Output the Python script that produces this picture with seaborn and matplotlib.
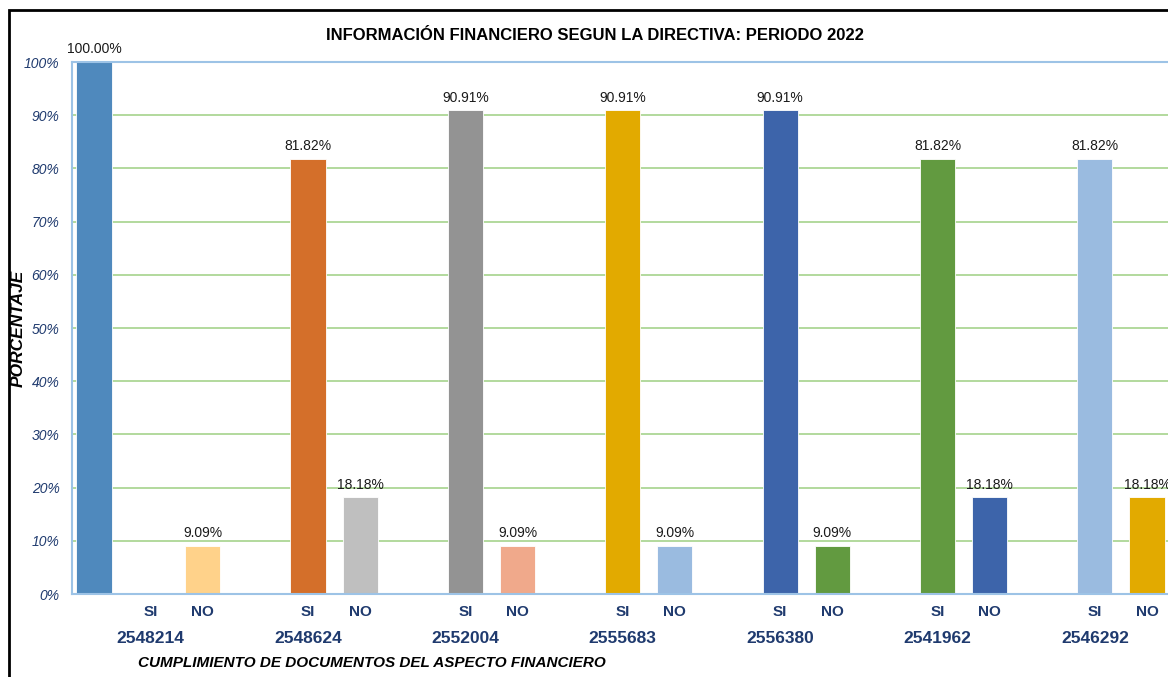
import pandas as pd
import seaborn as sns
import matplotlib.pyplot as plt
from matplotlib.patches import Rectangle
from matplotlib.transforms import blended_transform_factory

# data
grupos = ["2548214", "2548624", "2552004", "2555683", "2556380", "2541962", "2546292"]
respuestas = ["SI", "NO"]
si_valores = [1.0, 0.8182, 0.9091, 0.9091, 0.9091, 0.8182, 0.8182]
no_valores = [0.0909, 0.1818, 0.0909, 0.0909, 0.0909, 0.1818, 0.1818]

# bar colours, one per group (SI, NO)
si_colores = ["#4F89BD", "#D46F2A", "#939393", "#E2AA00", "#3D64AA", "#629A40", "#9ABBE0"]
no_colores = ["#FFD28A", "#BFBFBF", "#F0A98B", "#9ABBE0", "#629A40", "#3D64AA", "#E2AA00"]

navy = "#1F3A6E"
azul_eje = "#9DC3E6"
verde_grid = "#A6D38C"

records = []
for g, s, n in zip(grupos, si_valores, no_valores):
    records.append({"Grupo": g, "Respuesta": "SI", "Valor": s})
    records.append({"Grupo": g, "Respuesta": "NO", "Valor": n})
df = pd.DataFrame(records)

sns.set_style("white")
plt.rcParams["font.family"] = ["Liberation Sans", "DejaVu Sans"]
plt.rcParams["text.color"] = "black"

fig = plt.figure(figsize=(11.68, 6.77), dpi=100)
ax = fig.add_axes([72 / 1168, 83 / 677, 1108 / 1168, 532 / 677])

sns.barplot(data=df, x="Grupo", y="Valor", hue="Respuesta", order=grupos,
            hue_order=respuestas, width=0.662, gap=0.326, legend=False, ax=ax)

si_bars, no_bars = ax.containers[0], ax.containers[1]
for bar, c in zip(si_bars, si_colores):
    bar.set_facecolor(c)
    bar.set_edgecolor("white")
    bar.set_linewidth(0.6)
for bar, c in zip(no_bars, no_colores):
    bar.set_facecolor(c)
    bar.set_edgecolor("white")
    bar.set_linewidth(0.6)

si_pos = [b.get_x() + b.get_width() / 2 for b in si_bars]
no_pos = [b.get_x() + b.get_width() / 2 for b in no_bars]

# first SI bar sits further left in the original chart
si_bars[0].set_x(si_bars[0].get_x() - 0.36)

for cont in ax.containers:
    ax.bar_label(cont, labels=[f"{v * 100:.2f}%" for v in cont.datavalues],
                 padding=4, fontsize=10, color="#1a1a1a")

ax.set_ylim(0, 1)
ax.set_xlim(-0.665, 6.375)
ax.set_yticks([i / 10 for i in range(11)])
ax.set_yticklabels([f"{i * 10}%" for i in range(11)], fontsize=10,
                   style="italic", color=navy)
ax.yaxis.grid(True, color=verde_grid, linewidth=1.2)
ax.set_axisbelow(True)

ticks = sorted(si_pos + no_pos)
ax.set_xticks(ticks)
ax.set_xticklabels(["SI" if t in si_pos else "NO" for t in ticks],
                   fontsize=11, fontweight="bold", color=navy)
ax.tick_params(axis="x", length=0, pad=8)
ax.tick_params(axis="y", length=0, pad=9)

trans = blended_transform_factory(ax.transData, ax.transAxes)
for p, g in zip(si_pos, grupos):
    ax.text(p, -0.083, g, transform=trans, ha="center", va="center",
            fontsize=12.5, fontweight="bold", color=navy)

for side in ["left", "bottom", "top"]:
    ax.spines[side].set_color(azul_eje)
    ax.spines[side].set_linewidth(1.5)
ax.spines["right"].set_visible(False)

ax.set_xlabel("")
ax.set_ylabel("")
fig.text(18 / 1168, 1 - 328 / 677, "PORCENTAJE", rotation=90, ha="center",
         va="center", fontsize=12.5, fontweight="bold", style="italic", color="black")
fig.text(372 / 1168, 1 - 663 / 677, "CUMPLIMIENTO DE DOCUMENTOS DEL ASPECTO FINANCIERO",
         ha="center", va="center", fontsize=11, fontweight="bold", style="italic",
         color="black")
fig.text(595 / 1168, 1 - 35 / 677, "INFORMACIÓN FINANCIERO SEGUN LA DIRECTIVA: PERIODO 2022",
         ha="center", va="center", fontsize=12, fontweight="bold", color="black")

# black frame of the original picture (cut on right and bottom)
fig.patches.append(Rectangle((9 / 1168, -0.1), 1.5, 1.1 - 10 / 677, fill=False,
                             edgecolor="black", linewidth=2, transform=fig.transFigure,
                             figure=fig))

plt.savefig("out.png", dpi=100)
